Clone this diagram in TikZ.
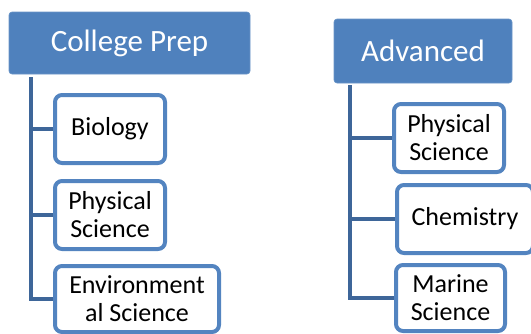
\documentclass[tikz,border=0pt]{standalone}
\usepackage{fontspec}
\setmainfont{Carlito}
\usetikzlibrary{backgrounds}
\definecolor{hdrblue}{HTML}{4F81BD}
\definecolor{boxblue}{HTML}{5384C0}
\definecolor{linkblue}{HTML}{3E6699}
\tikzset{
  header/.style={fill=hdrblue, draw=hdrblue!85!white, line width=0.6pt, rounded corners=3pt,
    text=white, font=\fontsize{31}{34}\selectfont, inner sep=0pt, outer sep=0pt},
  child/.style={draw=boxblue, fill=white, line width=4pt, rounded corners=7pt,
    text=black, font=\fontsize{26}{28}\selectfont, align=center,
    inner sep=0pt, outer sep=0pt, minimum height=68pt},
  conn/.style={draw=linkblue, line width=4.8pt, line join=miter}
}
\begin{document}
\begin{tikzpicture}[x=1pt,y=-1pt]
\useasboundingbox (0,0) rectangle (531,333);
% headers
\node[header, minimum width=241pt, minimum height=62pt] (cp) at (129.5,43) {College Prep};
\node[header, minimum width=178pt, minimum height=64pt] (adv) at (423,51) {Advanced};
% left children
\node[child, minimum width=110pt] (bio) at (110,129) {Biology};
\node[child, minimum width=110pt] (phys1) at (110,215) {Physical\\Science};
\node[child, minimum width=164pt, minimum height=66pt] (env) at (137,299) {Environment\\al Science};
% right children
\node[child, minimum width=110pt] (phys2) at (449,138) {Physical\\Science};
\node[child, minimum width=136pt] (chem) at (465,219) {Chemistry};
\node[child, minimum width=109pt, minimum height=66pt] (marine) at (450.5,298) {Marine\\Science};
% connector anchors
\coordinate (cptop) at (31,77);
\coordinate (advtop) at (350,85);
\begin{scope}[on background layer]
\draw[conn] (cptop) |- (env.west);
\draw[conn] (cptop |- bio.west) -- (bio.west);
\draw[conn] (cptop |- phys1.west) -- (phys1.west);
\draw[conn] (advtop) |- (marine.west);
\draw[conn] (advtop |- phys2.west) -- (phys2.west);
\draw[conn] (advtop |- chem.west) -- (chem.west);
\end{scope}
\end{tikzpicture}
\end{document}
